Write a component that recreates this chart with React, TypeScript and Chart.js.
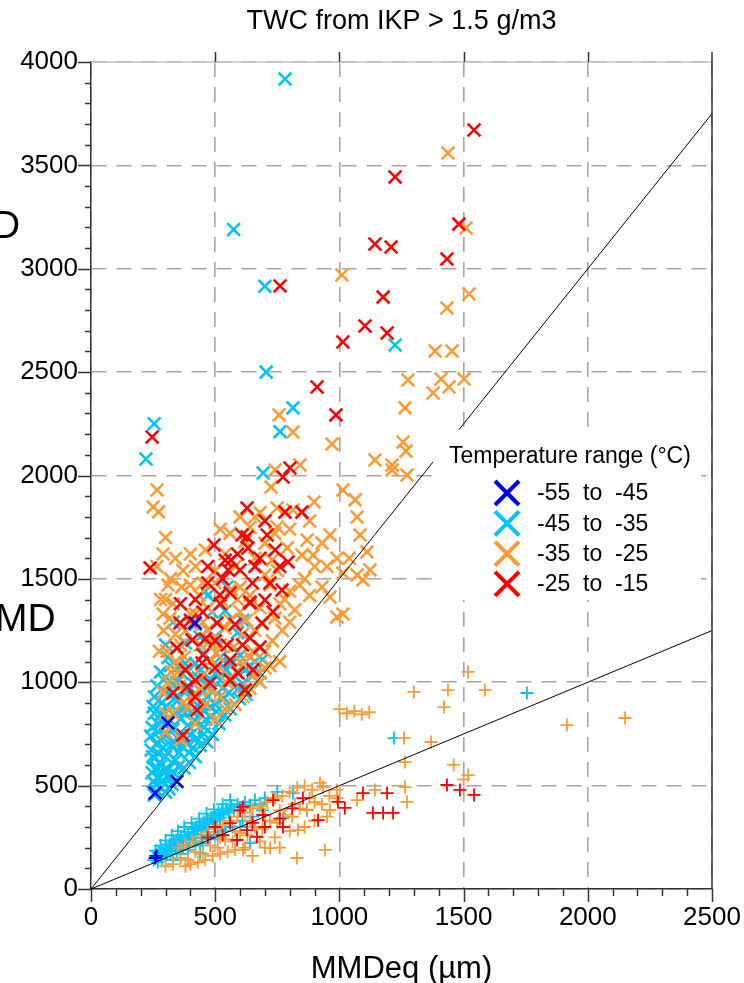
import React, { useEffect, useRef } from 'react';
import { Chart, registerables } from 'chart.js';

Chart.register(...registerables);

const FONT = '"Liberation Sans", Arial, sans-serif';

const CHART_TITLE = 'TWC from IKP > 1.5 g/m3';
const X_TITLE = 'MMDeq (µm)';
const LEGEND_TITLE = 'Temperature range (°C)';
const SIDE_LABELS = ['D', 'MD'];

const X_RANGE = [0, 2500];
const Y_RANGE = [0, 4000];
const MAJOR_STEP = 500;
const MINOR_STEP = 100;

const TEMPERATURE_RANGES = ['-55  to  -45', '-45  to  -35', '-35  to  -25', '-25  to  -15'];
const RANGE_COLORS = ['#0000ee', '#00c3f7', '#ff9a35', '#ff0000'];

// reference lines through the origin: MMD = 1.5 * MMDeq and MMD = 0.5 * MMDeq
const REF_SLOPES = [1.5, 0.5];

// MMD points (x markers), flat x,y pairs per temperature range
const mmdBlue = [258, 464, 310, 803, 419, 1287, 346, 520];

const mmdCyan = [
  255, 455, 268, 472, 282, 490, 300, 468, 314, 485, 262, 505, 290, 522, 326, 505, 276, 540, 306, 548, 342, 525,
  246, 562, 265, 588, 286, 602, 310, 578, 332, 562, 352, 592, 374, 585, 256, 632, 300, 640, 340, 622, 396, 612, 420, 640, 272, 655,
  242, 672, 262, 702, 290, 684, 322, 694, 356, 662, 386, 702, 410, 684, 440, 694, 466, 712, 300, 742, 346, 732, 400, 744, 488, 748,
  246, 782, 270, 762, 300, 802, 330, 772, 360, 822, 390, 792, 420, 812, 455, 782, 482, 832, 515, 800, 538, 842, 280, 842, 440, 846,
  250, 882, 286, 902, 316, 872, 350, 932, 380, 882, 410, 912, 446, 872, 472, 932, 500, 892, 536, 922, 560, 872, 598, 920, 624, 942, 300, 952,
  266, 982, 292, 1012, 330, 992, 366, 1042, 400, 972, 432, 1022, 466, 992, 500, 1042, 530, 972, 570, 1012, 610, 992, 650, 1032, 680, 1045,
  250, 520, 258, 580, 275, 610, 295, 575, 320, 540, 248, 640, 282, 720, 310, 660, 335, 710, 365, 690, 395, 660, 425, 730, 455, 750,
  270, 800, 315, 820, 345, 860, 375, 850, 405, 860, 430, 890, 462, 820, 505, 860, 255, 930, 320, 940, 345, 1000, 385, 960, 415, 990,
  450, 950, 485, 1010, 520, 1010, 555, 950, 590, 965, 255, 850, 240, 740, 300, 880, 335, 920, 280, 1050, 320, 1080, 380, 1090,
  440, 1060, 545, 1060, 620, 1060, 660, 1100, 480, 880,
  286, 808, 310, 1120, 350, 1075, 420, 1090, 455, 1140, 520, 1120, 560, 1090, 600, 1130, 640, 1080, 690, 1110,
  300, 1180, 380, 1190, 439, 1219, 500, 1220, 590, 1240, 487, 1340, 540, 1345, 330, 1290, 420, 1280, 470, 1420, 460, 1440, 548, 1461, 610, 1300,
  221, 2080, 254, 2250, 574, 3190, 700, 2915, 705, 2500, 761, 2212, 781, 3918, 813, 2327, 693, 2012, 1224, 2631,
];

const mmdOrange = [
  266, 1930, 250, 1848, 272, 1824, 318, 1311, 310, 1470, 399, 1470, 290, 1620, 300, 1700, 265, 1560, 280, 1400, 292, 1250, 275, 1150,
  300, 760, 330, 850, 362, 722, 392, 880, 420, 800, 460, 892, 500, 820, 540, 870, 580, 892, 612, 930,
  290, 950, 322, 1050, 355, 980, 385, 1062, 415, 942, 446, 1030, 480, 962, 510, 1080, 545, 1000, 585, 1050, 622, 960, 660, 1040, 700, 1070,
  305, 1150, 340, 1232, 375, 1122, 405, 1282, 440, 1180, 470, 1252, 505, 1142, 540, 1262, 575, 1172, 610, 1232, 652, 1150, 690, 1282, 730, 1200, 770, 1250, 800, 1290,
  330, 1380, 365, 1460, 400, 1330, 435, 1420, 470, 1360, 500, 1480, 530, 1390, 565, 1450, 600, 1340, 640, 1420, 680, 1360, 720, 1470, 760, 1380, 800, 1440, 840, 1470, 880, 1420, 930, 1461, 962, 1412,
  420, 1560, 460, 1640, 500, 1540, 540, 1620, 580, 1560, 620, 1680, 660, 1600, 700, 1673, 729, 1591, 750, 1540, 790, 1650, 849, 1615, 870, 1688, 894, 1615, 930, 1673, 962, 1712,
  310, 1000, 340, 1100, 360, 1180, 380, 1250, 420, 1330, 450, 1290, 480, 1200, 520, 1180, 560, 1300, 590, 1400, 625, 1300, 660, 1250,
  700, 1150, 740, 1310, 780, 1400, 820, 1350, 860, 1500, 900, 1560, 950, 1560, 990, 1600, 1040, 1600, 640, 1120, 600, 1100, 560, 1020,
  520, 930, 480, 1100, 450, 1480, 400, 1620, 370, 1540, 340, 1600, 320, 1500, 300, 1400, 290, 1330, 700, 1520, 740, 1720, 800, 1740,
  880, 1780, 560, 1720, 600, 1800, 520, 1740, 760, 1100, 720, 1080, 680, 1000, 640, 970, 600, 1460, 350, 1050, 300, 850, 370, 900, 440, 960,
  1014, 1528, 1071, 1519, 1095, 1495, 1123, 1543, 1071, 1799, 1083, 1712, 1111, 1630, 1014, 1930, 990, 1316, 1014, 1330,
  640, 1750, 680, 1820, 749, 1751, 749, 1843, 813, 1833, 660, 1799, 725, 1944, 741, 2027, 841, 2051, 757, 2293, 813, 2210, 970, 2152, 898, 1872, 1063, 1882,
  1010, 2970, 1437, 3560, 1510, 3197, 1522, 2878, 1433, 2810, 1385, 2602, 1453, 2602, 1409, 2467, 1502, 2467, 1441, 2428, 1377, 2399, 1276, 2462,
  1264, 2327, 1256, 2162, 1268, 2118, 1143, 2075, 1212, 2051, 1212, 2027, 1272, 2002,
];

const mmdRed = [
  1542, 3671, 1224, 3444, 1481, 3216, 1143, 3120, 1208, 3105, 1433, 3047, 761, 2917, 1176, 2863, 1103, 2723, 1192, 2689, 1014, 2646, 910, 2428, 986, 2293, 246, 2186,
  801, 2036, 773, 1993, 628, 1843, 781, 1823, 849, 1823, 628, 1703, 709, 1712, 632, 1649, 793, 1582, 552, 1543, 769, 1446, 640, 1388, 238, 1553,
  519, 1422, 560, 1432, 640, 1383, 700, 1398, 688, 1287, 733, 1340, 451, 1132, 560, 1108, 548, 1180, 346, 1166, 386, 977, 330, 948, 419, 929, 620, 963, 370, 745,
  447, 1093, 499, 1069, 592, 1045, 652, 1059, 479, 996, 427, 866, 407, 1204, 640, 1214, 358, 1287, 507, 1287,
  600, 1543, 564, 1591, 495, 1664, 608, 1712, 741, 1640, 660, 1560, 530, 1500, 470, 1480, 420, 1400,
  380, 1060, 420, 1010, 460, 1210, 520, 1380, 580, 1280, 610, 1180, 680, 1170, 720, 1480, 760, 1560, 540, 1590, 470, 1560,
  400, 1300, 360, 1380, 450, 1340, 590, 1620, 680, 1600, 700, 1780, 560, 1010, 500, 1200, 650, 1480,
];

// MMDeq points (+ markers), flat x,y pairs per temperature range
const eqBlue = [258, 150, 264, 160];

const eqCyan = [
  252, 140, 258, 160, 265, 150, 272, 175, 280, 160, 288, 190, 295, 170, 302, 200, 310, 185, 318, 215, 325, 195, 333, 225, 340, 205,
  348, 240, 355, 215, 362, 250, 370, 230, 378, 260, 385, 240, 392, 275, 400, 250, 408, 290, 415, 265, 423, 300, 430, 280, 438, 310,
  445, 290, 453, 325, 460, 300, 468, 335, 475, 315, 483, 345, 490, 325, 498, 355, 505, 335, 513, 370, 520, 345, 528, 380, 535, 360,
  545, 390, 555, 370, 565, 400, 575, 380, 590, 410, 605, 395, 620, 420, 640, 405, 660, 430, 680, 410, 700, 440,
  269, 130, 285, 145, 300, 160, 320, 170, 345, 185, 370, 200, 395, 215, 420, 230, 445, 245, 470, 260, 495, 275, 520, 290,
  260, 185, 280, 210, 300, 235, 325, 260, 350, 280, 375, 300, 405, 320, 435, 340, 465, 365, 495, 385, 530, 410, 560, 430,
  330, 140, 360, 170, 390, 190, 420, 210, 450, 220, 480, 240, 510, 260, 540, 280, 570, 300, 610, 330, 650, 350, 690, 380,
  813, 464, 869, 382, 773, 343, 640, 222, 439, 174, 1755, 948, 1220, 730, 750, 470, 600, 300,
];

const eqOrange = [
  330, 120, 360, 150, 390, 140, 420, 180, 450, 170, 480, 210, 510, 200, 540, 240, 570, 230, 600, 270, 630, 260, 660, 300, 690, 290,
  720, 330, 750, 320, 780, 360, 810, 350, 840, 390, 870, 380, 900, 420, 930, 410, 960, 450, 990, 440,
  350, 200, 380, 215, 410, 230, 440, 250, 470, 275, 500, 290, 530, 310, 560, 330, 590, 350, 620, 370, 650, 390, 680, 400, 710, 420,
  740, 440, 770, 450, 800, 470, 830, 490, 860, 500, 890, 480, 400, 120, 460, 140, 520, 170, 580, 190, 612, 189, 721, 198, 829, 150,
  380, 110, 430, 130, 490, 160, 550, 180, 620, 200, 680, 230, 740, 250, 800, 280, 860, 300, 700, 200, 650, 160, 760, 200, 900, 330, 950, 350,
  942, 189, 833, 285, 962, 382, 934, 493, 990, 479, 1143, 479, 1264, 493, 1272, 421, 1071, 430, 922, 513, 520, 250, 580, 280, 640, 330,
  700, 360, 760, 380, 820, 410, 880, 440, 300, 110, 1000, 870, 1030, 850, 1060, 860, 1090, 845, 1120, 855, 1518, 1050, 1437, 962,
  1586, 962, 1300, 953, 1421, 880, 1916, 793, 2150, 827, 1260, 730, 1369, 711, 1264, 614, 1518, 551, 1500, 530, 1460, 600,
];

const eqRed = [
  560, 319, 612, 397, 692, 358, 733, 430, 773, 300, 628, 285, 588, 237, 668, 252, 853, 440, 994, 421, 1022, 392, 1095, 464, 914, 333,
  1135, 368, 1176, 368, 1216, 368, 1192, 464, 1433, 503, 1485, 479, 1542, 455, 500, 300, 530, 260, 650, 320, 700, 300, 760, 340,
  810, 390, 470, 250, 600, 380,
];

const toPoints = (flat: number[]) => {
  const pts: { x: number; y: number }[] = [];
  for (let i = 0; i < flat.length; i += 2) pts.push({ x: flat[i], y: flat[i + 1] });
  return pts;
};

const line = (ctx: CanvasRenderingContext2D, x1: number, y1: number, x2: number, y2: number) => {
  ctx.beginPath();
  ctx.moveTo(x1, y1);
  ctx.lineTo(x2, y2);
  ctx.stroke();
};

const framePlugin = {
  id: 'frame',
  beforeDatasetsDraw(chart: any) {
    const { ctx, chartArea } = chart;
    // faint solid line under the dashed top grid line
    ctx.save();
    ctx.strokeStyle = '#c4c4c4';
    ctx.lineWidth = 1.5;
    line(ctx, chartArea.left, chartArea.top, chartArea.right, chartArea.top);
    ctx.restore();
  },
  afterDraw(chart: any) {
    const { ctx, chartArea, scales } = chart;
    const { left, right, top, bottom } = chartArea;
    const xs = scales.x;
    const ys = scales.y;
    ctx.save();

    // legend box with its own white background
    ctx.fillStyle = '#ffffff';
    ctx.fillRect(433, 430, 268, 170);
    ctx.fillStyle = '#000';
    ctx.font = `23px ${FONT}`;
    ctx.textAlign = 'left';
    ctx.textBaseline = 'middle';
    ctx.fillText(LEGEND_TITLE, 449, 457);
    TEMPERATURE_RANGES.forEach((label, i) => {
      const cy = 493 + i * 30.3;
      const cx = 507;
      const h = 12;
      ctx.strokeStyle = RANGE_COLORS[i];
      ctx.lineWidth = 4;
      line(ctx, cx - h, cy - h, cx + h, cy + h);
      line(ctx, cx - h, cy + h, cx + h, cy - h);
      ctx.fillStyle = '#000';
      ctx.fillText(label, 537, cy + 1);
    });

    // axis frame and tick marks
    ctx.strokeStyle = '#333';
    ctx.lineWidth = 1.5;
    line(ctx, right, bottom, right, top - 10);
    for (let v = Y_RANGE[0]; v <= Y_RANGE[1]; v += MINOR_STEP) {
      const py = Math.round(ys.getPixelForValue(v)) + 0.5;
      const len = v % MAJOR_STEP === 0 ? 13 : 6;
      line(ctx, left - len, py, left, py);
    }
    for (let v = X_RANGE[0]; v <= X_RANGE[1]; v += MINOR_STEP) {
      const px = Math.round(xs.getPixelForValue(v)) + 0.5;
      const len = v % MAJOR_STEP === 0 ? 13 : 7;
      line(ctx, px, bottom, px, bottom + len);
      if (v % MAJOR_STEP === 0 && v > X_RANGE[0] && v < X_RANGE[1]) line(ctx, px, top, px, top - 10);
    }

    // chart title
    ctx.fillStyle = '#000';
    ctx.textAlign = 'center';
    ctx.textBaseline = 'middle';
    ctx.font = `27px ${FONT}`;
    ctx.fillText(CHART_TITLE, (left + right) / 2, 22);

    // x axis title
    ctx.font = `31px ${FONT}`;
    ctx.fillText(X_TITLE, (left + right) / 2, 969);

    // labels running in from the left edge
    ctx.textAlign = 'left';
    ctx.font = `39px ${FONT}`;
    ctx.fillText(SIDE_LABELS[0], -8, 227);
    ctx.fillText(SIDE_LABELS[1], -5, 620);
    ctx.restore();
  },
};

export default function App() {
  const canvasRef = useRef<HTMLCanvasElement | null>(null);

  useEffect(() => {
    if (!canvasRef.current) return;
    Chart.defaults.font.family = FONT;

    const lineSets = REF_SLOPES.map((s) => ({
      label: `MMD = ${s} MMDeq`,
      data: [
        { x: X_RANGE[0], y: X_RANGE[0] * s },
        { x: X_RANGE[1], y: X_RANGE[1] * s },
      ],
      showLine: true,
      borderColor: '#000',
      borderWidth: 1,
      pointRadius: 0,
    }));

    const mmdSeries = [mmdBlue, mmdRed, mmdOrange, mmdCyan];
    const eqSeries = [eqBlue, eqRed, eqOrange, eqCyan];
    const colorOrder = [0, 3, 2, 1];

    const mmdSets = mmdSeries.map((flat, k) => ({
      label: `MMD ${TEMPERATURE_RANGES[colorOrder[k]]}`,
      data: toPoints(flat),
      pointStyle: 'crossRot',
      pointRadius: 9,
      borderWidth: 2.6,
      borderColor: RANGE_COLORS[colorOrder[k]],
      backgroundColor: RANGE_COLORS[colorOrder[k]],
    }));
    const eqSets = eqSeries.map((flat, k) => ({
      label: `MMDeq ${TEMPERATURE_RANGES[colorOrder[k]]}`,
      data: toPoints(flat),
      pointStyle: 'cross',
      pointRadius: 6.5,
      borderWidth: 1.8,
      borderColor: RANGE_COLORS[colorOrder[k]],
      backgroundColor: RANGE_COLORS[colorOrder[k]],
    }));

    const plain = (v: any) => String(v);

    const chart = new Chart(canvasRef.current, {
      type: 'scatter',
      data: { datasets: [...lineSets, ...mmdSets, ...eqSets] as any },
      options: {
        animation: false,
        responsive: false,
        maintainAspectRatio: false,
        devicePixelRatio: 1,
        layout: { padding: { top: 62, right: 32, left: 0, bottom: 0 } },
        plugins: { legend: { display: false }, tooltip: { enabled: false }, title: { display: false } },
        scales: {
          x: {
            type: 'linear',
            min: X_RANGE[0],
            max: X_RANGE[1],
            afterFit: (s: any) => {
              s.height = 94;
              s.paddingLeft = 0;
              s.paddingRight = 0;
            },
            ticks: { stepSize: MAJOR_STEP, color: '#000', font: { size: 26 }, padding: 13, maxRotation: 0, callback: plain },
            grid: { color: '#a6a6a6', lineWidth: 1.6, drawTicks: false },
            border: { display: true, color: '#333', width: 1.5, dash: [15, 10] },
          },
          y: {
            type: 'linear',
            min: Y_RANGE[0],
            max: Y_RANGE[1],
            afterFit: (s: any) => {
              s.width = 91;
              s.paddingTop = 0;
              s.paddingBottom = 0;
            },
            ticks: { stepSize: MAJOR_STEP, color: '#000', font: { size: 26 }, padding: 13, callback: plain },
            grid: { color: '#a6a6a6', lineWidth: 1.6, drawTicks: false },
            border: { display: true, color: '#333', width: 1.5, dash: [15, 10] },
          },
        },
      },
      plugins: [framePlugin],
    });
    return () => chart.destroy();
  }, []);

  return (
    <div style={{ position: 'absolute', left: 0, top: 0, width: 744, height: 983, background: '#fff' }}>
      <canvas ref={canvasRef} width={744} height={983} style={{ display: 'block' }} />
    </div>
  );
}
